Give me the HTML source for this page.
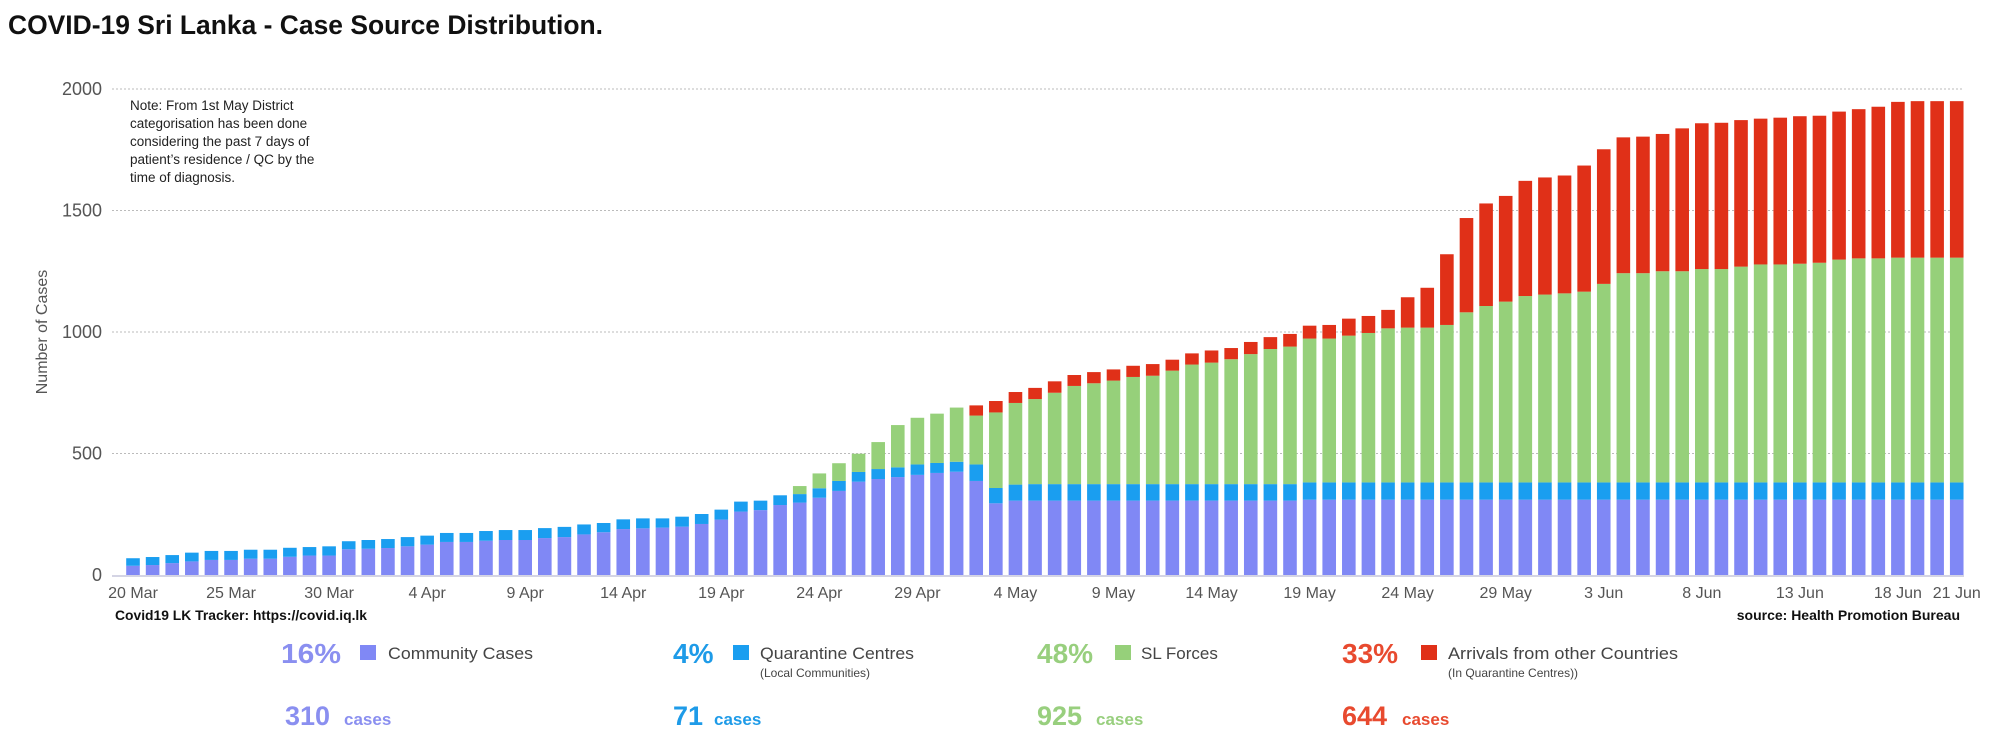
<!DOCTYPE html>
<html><head><meta charset="utf-8"><style>
html,body{margin:0;padding:0;background:#fff;}
svg{display:block;font-family:"Liberation Sans",sans-serif;}
</style></head><body>
<svg id="chart" width="2000" height="753" viewBox="0 0 2000 753">
<text x="8" y="34" font-size="27" font-weight="bold" fill="#111" textLength="595" lengthAdjust="spacingAndGlyphs">COVID-19 Sri Lanka - Case Source Distribution.</text>
<g id="grid"></g>
<g id="bars"></g>
<g id="xaxis"></g>
<text transform="translate(47,332) rotate(-90)" text-anchor="middle" font-size="16" fill="#555">Number of Cases</text>
<g font-size="13.5" fill="#222">
<text x="130" y="110">Note: From 1st May District</text>
<text x="130" y="128">categorisation has been done</text>
<text x="130" y="146">considering the past 7 days of</text>
<text x="130" y="164">patient’s residence / QC by the</text>
<text x="130" y="182">time of diagnosis.</text>
</g>
<text x="115" y="620" font-size="14" font-weight="bold" fill="#111" textLength="252" lengthAdjust="spacingAndGlyphs">Covid19 LK Tracker: https://covid.iq.lk</text>
<text x="1960" y="620" text-anchor="end" font-size="14" font-weight="bold" fill="#111">source: Health Promotion Bureau</text>

<g>
<text x="281" y="663" font-size="28" font-weight="bold" fill="#8a8ff0" textLength="60" lengthAdjust="spacingAndGlyphs">16%</text>
<rect x="360" y="645" width="16" height="15" fill="#8088f5"/>
<text x="388" y="659" font-size="17" fill="#444" textLength="145" lengthAdjust="spacingAndGlyphs">Community Cases</text>
<text x="285" y="725" font-size="27" font-weight="bold" fill="#8a8ff0">310</text>
<text x="344" y="725" font-size="17" font-weight="bold" fill="#8a8ff0">cases</text>
</g>
<g>
<text x="673" y="663" font-size="28" font-weight="bold" fill="#1e9be8">4%</text>
<rect x="733" y="645" width="16" height="15" fill="#1a9ef0"/>
<text x="760" y="659" font-size="17" fill="#444" textLength="154" lengthAdjust="spacingAndGlyphs">Quarantine Centres</text>
<text x="760" y="677" font-size="12" fill="#444">(Local Communities)</text>
<text x="673" y="725" font-size="27" font-weight="bold" fill="#1e9be8">71</text>
<text x="714" y="725" font-size="17" font-weight="bold" fill="#1e9be8">cases</text>
</g>
<g>
<text x="1037" y="663" font-size="28" font-weight="bold" fill="#98cf7e">48%</text>
<rect x="1115" y="645" width="16" height="15" fill="#96d07a"/>
<text x="1141" y="659" font-size="17" fill="#444">SL Forces</text>
<text x="1037" y="725" font-size="27" font-weight="bold" fill="#98cf7e">925</text>
<text x="1096" y="725" font-size="17" font-weight="bold" fill="#98cf7e">cases</text>
</g>
<g>
<text x="1342" y="663" font-size="28" font-weight="bold" fill="#e84a2f">33%</text>
<rect x="1421" y="645" width="16" height="15" fill="#e03018"/>
<text x="1448" y="659" font-size="17" fill="#444" textLength="230" lengthAdjust="spacingAndGlyphs">Arrivals from other Countries</text>
<text x="1448" y="677" font-size="12" fill="#444">(In Quarantine Centres))</text>
<text x="1342" y="725" font-size="27" font-weight="bold" fill="#e84a2f">644</text>
<text x="1402" y="725" font-size="17" font-weight="bold" fill="#e84a2f">cases</text>
</g>
</svg>
<script>
const community = [38,41,49,56,62,62,67,67,75,80,80,106,108,111,118,125,136,136,141,144,144,152,156,167,176,189,192,195,199,210,228,261,267,288,
298,318,346,384,395,403,412,420,425,387,295,
306,306,306,306,306,306,306,306,306,306,306,306,306,306,306,
310,310,310,310,310,310,310,310,310,310,310,310,310,310,310,310,310,310,310,310,310,310,310,310,310,310,310,310,310,310,310,310,310,310];
const quarantine = [31,33,33,36,37,37,37,37,37,35,38,33,36,37,38,37,37,37,40,41,41,41,42,41,38,40,41,38,41,41,41,41,39,40,
35,39,41,40,41,40,43,41,41,68,63,
66,68,68,68,68,68,68,68,68,68,68,68,68,68,68,
71,71,71,71,71,71,71,71,71,71,71,71,71,71,71,71,71,71,71,71,71,71,71,71,71,71,71,71,71,71,71,71,71,71];
const slForces = [0,0,0,0,0,0,0,0,0,0,0,0,0,0,0,0,0,0,0,0,0,0,0,0,0,0,0,0,0,0,0,0,0,0,
33,61,73,75,111,174,192,203,223,201,311,
336,350,376,404,415,426,441,446,467,492,500,514,535,556,566,
592,592,604,615,634,637,637,648,700,726,744,767,773,778,785,817,861,861,869,869,878,878,888,897,897,900,904,917,922,922,925,925,925,925];
const arrivals = [0,0,0,0,0,0,0,0,0,0,0,0,0,0,0,0,0,0,0,0,0,0,0,0,0,0,0,0,0,0,0,0,0,0,0,0,0,0,0,0,0,0,0,
42,47,45,46,47,45,46,46,46,48,45,46,50,46,50,49,52,
53,56,70,70,76,125,164,291,388,422,435,474,482,485,519,554,559,562,565,588,600,602,603,600,604,607,605,609,614,624,641,644,644,644];
const yTicks = [0,500,1000,1500,2000];
const xTickIdx = [0,5,10,15,20,25,30,35,40,45,50,55,60,65,70,75,80,85,90,93];
const xTickLabels = ["20 Mar","25 Mar","30 Mar","4 Apr","9 Apr","14 Apr","19 Apr","24 Apr","29 Apr","4 May","9 May","14 May","19 May","24 May","29 May","3 Jun","8 Jun","13 Jun","18 Jun","21 Jun"];

const NS = "http://www.w3.org/2000/svg";
function yScale(v){ return 575 - v*0.243; }
function xScale(i){ return 133 + i*19.61; }
function mk(tag, attrs, parent){ const e=document.createElementNS(NS,tag); for(const k in attrs) e.setAttribute(k,attrs[k]); parent.appendChild(e); return e; }

const grid = document.getElementById('grid');
yTicks.forEach(function(t){
  const y = yScale(t);
  if (t>0) {
    const l = mk('line',{x1:112,x2:1964,y1:y,y2:y,stroke:'#bbb','stroke-width':1,'stroke-dasharray':'2,2'},grid);
    
    
  }
  const tx = mk('text',{x:102,y:y+6,'text-anchor':'end','font-size':18,fill:'#555'},grid);
  tx.textContent = t;
  
  
});

const bars = document.getElementById('bars');
const series = [[community,'#8088f5','community'],[quarantine,'#1a9ef0','quarantine'],[slForces,'#96d07a','sl-forces'],[arrivals,'#e03018','arrivals']];
for (let i=0;i<community.length;i++){
  let base = 0;
  series.forEach(function(s){
    const v = s[0][i];
    if (v>0){
      const r = mk('rect',{x:xScale(i)-6.8,width:13.6,y:yScale(base+v),height:yScale(base)-yScale(base+v),fill:s[1]},bars);
      
      
    }
    base += v;
  });
}
const axis = document.getElementById('xaxis');
const bl = mk('line',{x1:112,x2:1964,y1:576,y2:576,stroke:'#d4d4e4','stroke-width':2},axis);


xTickIdx.forEach(function(idx,k){
  const t = mk('text',{x:xScale(idx),y:598,'text-anchor':'middle','font-size':16,fill:'#555'},axis);
  t.textContent = xTickLabels[k];
  
  
});
</script>
</body></html>
